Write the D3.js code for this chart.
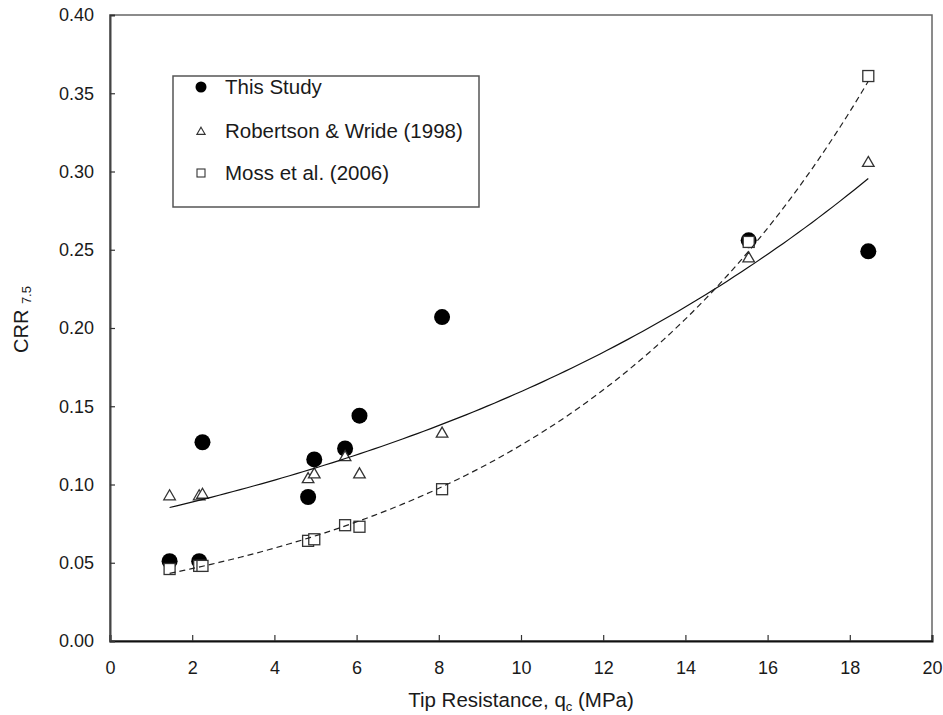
<!DOCTYPE html>
<html>
<head>
<meta charset="utf-8">
<script src="https://cdn.jsdelivr.net/npm/d3@7/dist/d3.min.js"></script>
<style>
  body { margin: 0; background: #fff; }
  svg text { font-family: "Liberation Sans", Arial, sans-serif; fill: #1a1a1a; }
</style>
</head>
<body>
<div id="chart"></div>
<script>
// tip resistance values shared by the three series (MPa)
var qc = [1.45, 2.17, 2.25, 4.82, 4.97, 5.72, 6.07, 8.08, 15.54, 18.45]
var crrStudy = [0.051, 0.051, 0.127, 0.092, 0.116, 0.123, 0.144, 0.207, 0.256, 0.249]
var crrRobertson = [0.093, 0.093, 0.094, 0.104, 0.107, 0.118, 0.107, 0.133, 0.245, 0.306]
var crrMoss = [0.046, 0.048, 0.048, 0.064, 0.065, 0.074, 0.073, 0.097, 0.255, 0.361]
var seriesNames = ["This Study", "Robertson & Wride (1998)", "Moss et al. (2006)"]
var xTicks = [0, 2, 4, 6, 8, 10, 12, 14, 16, 18, 20]
var yTicks = [0, 0.05, 0.10, 0.15, 0.20, 0.25, 0.30, 0.35, 0.40]

//------------------------------------------
// layout
//------------------------------------------
var width = 943, height = 715
var plotLeft = 110, plotRight = 932, plotTop = 15, plotBottom = 641

var svg = d3.select("#chart").append("svg")
    .attr("width", width)
    .attr("height", height)

var x = d3.scaleLinear().domain([0, 20]).range([plotLeft, plotRight])
var y = d3.scaleLinear().domain([0, 0.40]).range([plotBottom, plotTop])

// plot frame (top / right)
svg.append("rect")
    .attr("x", plotLeft).attr("y", plotTop)
    .attr("width", plotRight - plotLeft).attr("height", plotBottom - plotTop)
    .style("fill", "none")
    .style("stroke", "#666")
    .style("stroke-width", "1.5px")

//------------------------------------------
// axes, ticks point inward
//------------------------------------------
var xAxis = svg.append("g")
    .attr("transform", "translate(0," + plotBottom + ")")
    .call(d3.axisBottom(x).tickValues(xTicks).tickSize(-6).tickPadding(20).tickFormat(d3.format("d")))
var yAxis = svg.append("g")
    .attr("transform", "translate(" + plotLeft + ",0)")
    .call(d3.axisLeft(y).tickValues(yTicks).tickSize(-5).tickPadding(16).tickFormat(d3.format(".2f")))

xAxis.select(".domain").style("stroke", "#111").style("stroke-width", "2px")
yAxis.select(".domain").style("stroke", "#444").style("stroke-width", "2px")
svg.selectAll(".tick line").style("stroke", "#333").style("stroke-width", "1.2px")
svg.selectAll(".tick text")
    .style("font-size", "18px")
    .style("font-family", "'Liberation Sans', Arial, sans-serif")
    .attr("fill", "#1a1a1a")

// axis titles
var xTitle = svg.append("text")
    .attr("x", (plotLeft + plotRight) / 2)
    .attr("y", 707)
    .attr("text-anchor", "middle")
    .style("font-size", "20.5px")
xTitle.append("tspan").text("Tip Resistance, q")
xTitle.append("tspan").text("c").attr("dy", 4).style("font-size", "13px")
xTitle.append("tspan").text(" (MPa)").attr("dy", -4)

var yTitle = svg.append("text")
    .attr("transform", "translate(28,353) rotate(-90)")
    .attr("text-anchor", "start")
    .style("font-size", "20px")
yTitle.append("tspan").text("CRR ")
yTitle.append("tspan").text("7.5").attr("dy", 3).style("font-size", "13px")

//------------------------------------------
// markers
//------------------------------------------
var tri = d3.symbol().type(d3.symbolTriangle).size(58)

svg.append("g").selectAll("circle")
    .data(crrStudy)
    .enter()
    .append("circle")
    .attr("cx", (d, i) => x(qc[i]))
    .attr("cy", d => y(d))
    .attr("r", 8)
    .style("fill", "#000")

svg.append("g").selectAll("path")
    .data(crrRobertson)
    .enter()
    .append("path")
    .attr("d", tri)
    .attr("transform", (d, i) => "translate(" + x(qc[i]) + "," + (y(d) + 1) + ")")
    .style("fill", "#fff")
    .style("stroke", "#333")
    .style("stroke-width", "1.3px")

svg.append("g").selectAll("rect")
    .data(crrMoss)
    .enter()
    .append("rect")
    .attr("x", (d, i) => x(qc[i]) - 5.5)
    .attr("y", d => y(d) - 5.5)
    .attr("width", 11).attr("height", 11)
    .style("fill", "#fff")
    .style("stroke", "#333")
    .style("stroke-width", "1.3px")

//------------------------------------------
// exponential trend lines (least squares on ln y)
//------------------------------------------
function expFit(xs, ys) {
    var lx = d3.mean(xs)
    var ly = d3.mean(ys, d => Math.log(d))
    var sxy = d3.sum(xs, (v, i) => (v - lx) * (Math.log(ys[i]) - ly))
    var sxx = d3.sum(xs, v => (v - lx) * (v - lx))
    var b = sxy / sxx
    var a = Math.exp(ly - b * lx)
    return v => a * Math.exp(b * v)
}

var xs = d3.range(100).map(i => d3.min(qc) + (d3.max(qc) - d3.min(qc)) * i / 99)
var line = d3.line().x(d => x(d[0])).y(d => y(d[1]))

var fitR = expFit(qc, crrRobertson)
var fitM = expFit(qc, crrMoss)

svg.append("path")
    .attr("d", line(xs.map(v => [v, fitR(v)])))
    .style("fill", "none")
    .style("stroke", "#111")
    .style("stroke-width", "1.2px")

svg.append("path")
    .attr("d", line(xs.map(v => [v, fitM(v)])))
    .style("fill", "none")
    .style("stroke", "#222")
    .style("stroke-width", "1.2px")
    .style("stroke-dasharray", "6,4")

//------------------------------------------
// legend
//------------------------------------------
var legend = svg.append("g")
legend.append("rect")
    .attr("x", 173).attr("y", 76)
    .attr("width", 306).attr("height", 131)
    .style("fill", "#fff")
    .style("stroke", "#555")
    .style("stroke-width", "1.5px")

var rowY = [87, 131, 173]
legend.append("circle")
    .attr("cx", 201).attr("cy", rowY[0]).attr("r", 5.5)
    .style("fill", "#000")
legend.append("path")
    .attr("d", d3.symbol().type(d3.symbolTriangle).size(30))
    .attr("transform", "translate(201," + (rowY[1] + 1) + ")")
    .style("fill", "#fff").style("stroke", "#333").style("stroke-width", "1.1px")
legend.append("rect")
    .attr("x", 197).attr("y", rowY[2] - 4)
    .attr("width", 8).attr("height", 8)
    .style("fill", "#fff").style("stroke", "#333").style("stroke-width", "1.1px")

legend.selectAll(".legendText")
    .data(seriesNames)
    .enter()
    .append("text")
    .attr("class", "legendText")
    .attr("x", 225)
    .attr("y", (d, i) => rowY[i] + 7)
    .text(d => d)
    .style("font-size", "20.5px")
</script>
</body>
</html>
